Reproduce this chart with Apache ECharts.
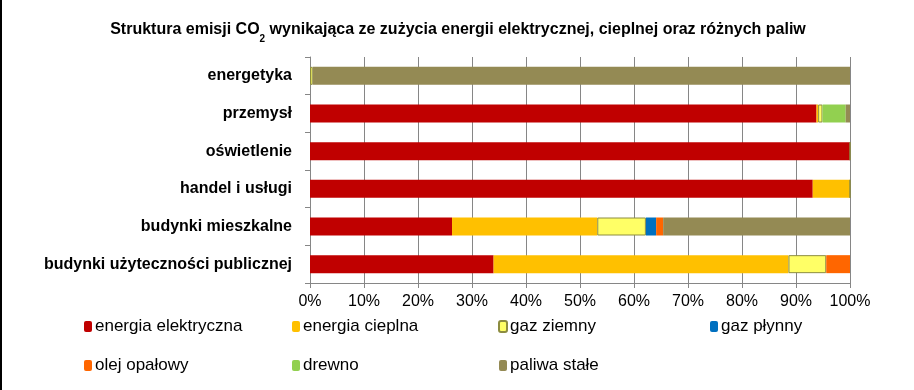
<!DOCTYPE html>
<html><head><meta charset="utf-8">
<script src="https://cdn.jsdelivr.net/npm/echarts@6/dist/echarts.min.js"></script>
<style>html,body{margin:0;padding:0;background:#fff}#c{width:912px;height:390px;border-left:2px solid #000}</style>
</head><body><div id="c"></div>
<script>
const categories = ['budynki użyteczności publicznej','budynki mieszkalne','handel i usługi','oświetlenie','przemysł','energetyka'];
const seriesNames = ['energia elektryczna','energia cieplna','gaz ziemny','gaz płynny','olej opałowy','drewno','paliwa stałe'];
const energiaElektryczna = [34.0, 26.3, 93.1, 100, 93.8, 0];
const energiaCieplna     = [54.6, 26.9, 6.9, 0, 0.3, 0];
const gazZiemny          = [7.0, 9.0, 0, 0, 0.8, 0.5];
const gazPlynny          = [0, 1.9, 0, 0, 0, 0];
const olejOpalowy        = [4.4, 1.3, 0, 0, 0, 0];
const drewno             = [0, 0, 0, 0, 4.3, 0];
const paliwaStale        = [0, 34.6, 0, 0, 0.8, 99.5];
const tickLabels = ['0%','10%','20%','30%','40%','50%','60%','70%','80%','90%','100%'];

const values = [energiaElektryczna, energiaCieplna, gazZiemny, gazPlynny, olejOpalowy, drewno, paliwaStale];
const colors = ['#C00000','#FFC000','#FFFF66','#0070C0','#FF6600','#92D050','#948A54'];
const font = 'Liberation Sans';

const chart = echarts.init(document.getElementById('c'));
const legendCols = [
  {left: 82, names: ['energia elektryczna','olej opałowy']},
  {left: 290, names: ['energia cieplna','drewno']},
  {left: 496, names: ['gaz ziemny','paliwa stałe']},
  {left: 708, names: ['gaz płynny']}
];
chart.setOption({
  animation: false,
  title: {
    text: 'Struktura emisji CO{sub|2} wynikająca ze zużycia energii elektrycznej, cieplnej oraz różnych paliw',
    left: 'center', top: 17,
    textStyle: {fontFamily: font, fontSize: 16, fontWeight: 'bold', color: '#000',
      rich: {sub: {fontFamily: font, fontSize: 10, fontWeight: 'bold', color: '#000', verticalAlign: 'bottom', padding: [0,0,-6,0]}}}
  },
  legend: legendCols.map(c => ({
    data: c.names, left: c.left, top: 318, orient: 'vertical', padding: 0,
    itemWidth: 8, itemHeight: 11, itemGap: 22,
    textStyle: {fontFamily: font, fontSize: 17, color: '#000', padding: [0,0,0,-2]}
  })),
  grid: {left: 308, right: 64, top: 57, bottom: 107},
  xAxis: {
    type: 'value', min: 0, max: 100, interval: 10,
    axisLine: {show: true, lineStyle: {color: '#868686'}},
    axisTick: {show: true, length: 5, lineStyle: {color: '#868686'}},
    splitLine: {show: true, lineStyle: {color: '#868686', width: 1}},
    axisLabel: {fontFamily: font, fontSize: 16, color: '#000', margin: 11,
      formatter: v => tickLabels[Math.round(v/10)]}
  },
  yAxis: {
    type: 'category', data: categories,
    axisLine: {show: true, lineStyle: {color: '#868686'}},
    axisTick: {show: true, length: 5, lineStyle: {color: '#868686'}},
    axisLabel: {fontFamily: font, fontSize: 16, fontWeight: 'bold', color: '#000', margin: 18}
  },
  series: seriesNames.map((n, i) => ({
    name: n, type: 'bar', stack: 'total', barWidth: 18,
    data: values[i],
    itemStyle: i === 2 ? {color: colors[i], borderColor: '#8C8C40', borderWidth: 1} : {color: colors[i]}
  }))
});
</script></body></html>
